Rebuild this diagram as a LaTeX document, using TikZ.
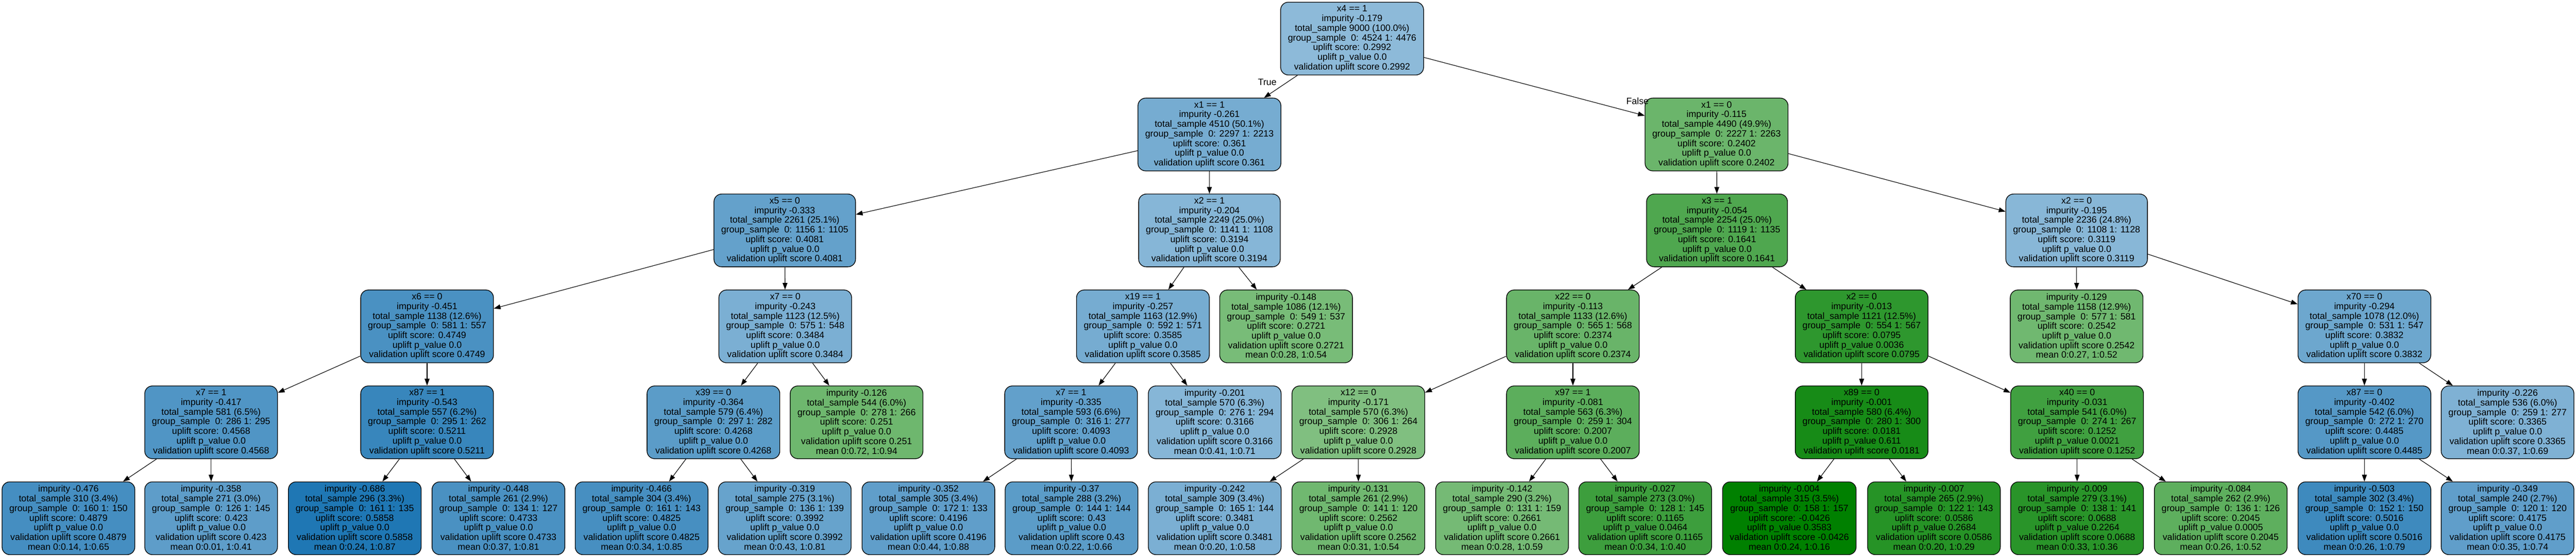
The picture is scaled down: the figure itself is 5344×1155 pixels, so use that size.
\documentclass[tikz,border=0pt]{standalone}
\usepackage{fontspec}
\setmainfont{Liberation Sans}
\usetikzlibrary{arrows.meta}
\definecolor{tabblue}{HTML}{1F77B4}
\definecolor{dgreen}{HTML}{008000}
\newcommand{\nodefnt}{\fontsize{9.5pt}{10pt}\selectfont}
\newcommand{\mkint}[7]{#1\\impurity #2\\total\_sample #3\\group\_sample\ \ 0: #4\\uplift score: #5\\uplift p\_value #6\\validation uplift score #7}
\newcommand{\mkleaf}[7]{impurity #1\\total\_sample #2\\group\_sample\ \ 0: #3\\uplift score: #4\\uplift p\_value #5\\validation uplift score #6\\mean #7}
\begin{document}
\begin{tikzpicture}[x=0.5pt,y=-0.5pt,
  tn/.style={draw=black, line width=0.7pt, rounded corners=8pt, align=center,
    inner xsep=7.5pt, inner ysep=0pt, minimum height=75.5pt, font=\nodefnt},
  bl/.style={tn, fill=tabblue!#1},
  gr/.style={tn, fill=dgreen!#1},
  conn/.style={-{Triangle[length=7pt,width=5pt]}, line width=0.6pt},
  elab/.style={font=\nodefnt, inner sep=0pt}]
\useasboundingbox (0,0) rectangle (5344,1155);
% level 0
\node[bl=51] (n0) at (2805,80) {\mkint{x4 == 1}{-0.179}{9000 (100.0\%)}{4524 1: 4476}{0.2992}{0.0}{0.2992}};
% level 1
\node[bl=61] (n1) at (2509,279) {\mkint{x1 == 1}{-0.261}{4510 (50.1\%)}{2297 1: 2213}{0.361}{0.0}{0.361}};
\node[gr=58] (n2) at (3561,279) {\mkint{x1 == 0}{-0.115}{4490 (49.9\%)}{2227 1: 2263}{0.2402}{0.0}{0.2402}};
% level 2
\node[bl=69] (n3) at (1628,478) {\mkint{x5 == 0}{-0.333}{2261 (25.1\%)}{1156 1: 1105}{0.4081}{0.0}{0.4081}};
\node[bl=54] (n4) at (2509,478) {\mkint{x2 == 1}{-0.204}{2249 (25.0\%)}{1141 1: 1108}{0.3194}{0.0}{0.3194}};
\node[gr=69] (n5) at (3562,478) {\mkint{x3 == 1}{-0.054}{2254 (25.0\%)}{1119 1: 1135}{0.1641}{0.0}{0.1641}};
\node[bl=53] (n6) at (4308,478) {\mkint{x2 == 0}{-0.195}{2236 (24.8\%)}{1108 1: 1128}{0.3119}{0.0}{0.3119}};
% level 3
\node[bl=81] (n7) at (886,677) {\mkint{x6 == 0}{-0.451}{1138 (12.6\%)}{581 1: 557}{0.4749}{0.0}{0.4749}};
\node[bl=59] (n8) at (1629,677) {\mkint{x7 == 0}{-0.243}{1123 (12.5\%)}{575 1: 548}{0.3484}{0.0}{0.3484}};
\node[bl=61] (n9) at (2371,677) {\mkint{x19 == 1}{-0.257}{1163 (12.9\%)}{592 1: 571}{0.3585}{0.0}{0.3585}};
\node[gr=53] (n10) at (2668,677) {\mkleaf{-0.148}{1086 (12.1\%)}{549 1: 537}{0.2721}{0.0}{0.2721}{0:0.28, 1:0.54}};
\node[gr=59] (n11) at (3263,677) {\mkint{x22 == 0}{-0.113}{1133 (12.6\%)}{565 1: 568}{0.2374}{0.0}{0.2374}};
\node[gr=82] (n12) at (3862,677) {\mkint{x2 == 0}{-0.013}{1121 (12.5\%)}{554 1: 567}{0.0795}{0.0036}{0.0795}};
\node[gr=56] (n13) at (4308,677) {\mkleaf{-0.129}{1158 (12.9\%)}{577 1: 581}{0.2542}{0.0}{0.2542}{0:0.27, 1:0.52}};
\node[bl=65] (n14) at (4905,677) {\mkint{x70 == 0}{-0.294}{1078 (12.0\%)}{531 1: 547}{0.3832}{0.0}{0.3832}};
% level 4
\node[bl=78] (n15) at (438,876) {\mkint{x7 == 1}{-0.417}{581 (6.5\%)}{286 1: 295}{0.4568}{0.0}{0.4568}};
\node[bl=89] (n16) at (886,876) {\mkint{x87 == 1}{-0.543}{557 (6.2\%)}{295 1: 262}{0.5211}{0.0}{0.5211}};
\node[bl=73] (n17) at (1480,876) {\mkint{x39 == 0}{-0.364}{579 (6.4\%)}{297 1: 282}{0.4268}{0.0}{0.4268}};
\node[gr=57] (n18) at (1777,876) {\mkleaf{-0.126}{544 (6.0\%)}{278 1: 266}{0.251}{0.0}{0.251}{0:0.72, 1:0.94}};
\node[bl=70] (n19) at (2222,876) {\mkint{x7 == 1}{-0.335}{593 (6.6\%)}{316 1: 277}{0.4093}{0.0}{0.4093}};
\node[bl=54] (n20) at (2520,876) {\mkleaf{-0.201}{570 (6.3\%)}{276 1: 294}{0.3166}{0.0}{0.3166}{0:0.41, 1:0.71}};
\node[gr=50] (n21) at (2818,876) {\mkint{x12 == 0}{-0.171}{570 (6.3\%)}{306 1: 264}{0.2928}{0.0}{0.2928}};
\node[gr=64] (n22) at (3263,876) {\mkint{x97 == 1}{-0.081}{563 (6.3\%)}{259 1: 304}{0.2007}{0.0}{0.2007}};
\node[gr=91] (n23) at (3862,876) {\mkint{x89 == 0}{-0.001}{580 (6.4\%)}{280 1: 300}{0.0181}{0.611}{0.0181}};
\node[gr=75] (n24) at (4309,876) {\mkint{x40 == 0}{-0.031}{541 (6.0\%)}{274 1: 267}{0.1252}{0.0021}{0.1252}};
\node[bl=76] (n25) at (4905,876) {\mkint{x87 == 0}{-0.402}{542 (6.0\%)}{272 1: 270}{0.4485}{0.0}{0.4485}};
\node[bl=57] (n26) at (5202,876) {\mkleaf{-0.226}{536 (6.0\%)}{259 1: 277}{0.3365}{0.0}{0.3365}{0:0.37, 1:0.69}};
% level 5
\node[bl=83] (l1) at (142,1075) {\mkleaf{-0.476}{310 (3.4\%)}{160 1: 150}{0.4879}{0.0}{0.4879}{0:0.14, 1:0.65}};
\node[bl=72] (l2) at (438,1075) {\mkleaf{-0.358}{271 (3.0\%)}{126 1: 145}{0.423}{0.0}{0.423}{0:0.01, 1:0.41}};
\node[bl=100] (l3) at (736,1075) {\mkleaf{-0.686}{296 (3.3\%)}{161 1: 135}{0.5858}{0.0}{0.5858}{0:0.24, 1:0.87}};
\node[bl=81] (l4) at (1034,1075) {\mkleaf{-0.448}{261 (2.9\%)}{134 1: 127}{0.4733}{0.0}{0.4733}{0:0.37, 1:0.81}};
\node[bl=82] (l5) at (1331,1075) {\mkleaf{-0.466}{304 (3.4\%)}{161 1: 143}{0.4825}{0.0}{0.4825}{0:0.34, 1:0.85}};
\node[bl=68] (l6) at (1628,1075) {\mkleaf{-0.319}{275 (3.1\%)}{136 1: 139}{0.3992}{0.0}{0.3992}{0:0.43, 1:0.81}};
\node[bl=71] (l7) at (1926,1075) {\mkleaf{-0.352}{305 (3.4\%)}{172 1: 133}{0.4196}{0.0}{0.4196}{0:0.44, 1:0.88}};
\node[bl=73] (l8) at (2223,1075) {\mkleaf{-0.37}{288 (3.2\%)}{144 1: 144}{0.43}{0.0}{0.43}{0:0.22, 1:0.66}};
\node[bl=59] (l9) at (2520,1075) {\mkleaf{-0.242}{309 (3.4\%)}{165 1: 144}{0.3481}{0.0}{0.3481}{0:0.20, 1:0.58}};
\node[gr=56] (l10) at (2818,1075) {\mkleaf{-0.131}{261 (2.9\%)}{141 1: 120}{0.2562}{0.0}{0.2562}{0:0.31, 1:0.54}};
\node[gr=54] (l11) at (3116,1075) {\mkleaf{-0.142}{290 (3.2\%)}{131 1: 159}{0.2661}{0.0}{0.2661}{0:0.28, 1:0.59}};
\node[gr=76] (l12) at (3413,1075) {\mkleaf{-0.027}{273 (3.0\%)}{128 1: 145}{0.1165}{0.0464}{0.1165}{0:0.34, 1:0.40}};
\node[gr=100] (l13) at (3712,1075) {\mkleaf{-0.004}{315 (3.5\%)}{158 1: 157}{-0.0426}{0.3583}{-0.0426}{0:0.24, 1:0.16}};
\node[gr=85] (l14) at (4012,1075) {\mkleaf{-0.007}{265 (2.9\%)}{122 1: 143}{0.0586}{0.2684}{0.0586}{0:0.20, 1:0.29}};
\node[gr=84] (l15) at (4309,1075) {\mkleaf{-0.009}{279 (3.1\%)}{138 1: 141}{0.0688}{0.2264}{0.0688}{0:0.33, 1:0.36}};
\node[gr=63] (l16) at (4607,1075) {\mkleaf{-0.084}{262 (2.9\%)}{136 1: 126}{0.2045}{0.0005}{0.2045}{0:0.26, 1:0.52}};
\node[bl=86] (l17) at (4905,1075) {\mkleaf{-0.503}{302 (3.4\%)}{152 1: 150}{0.5016}{0.0}{0.5016}{0:0.26, 1:0.79}};
\node[bl=71] (l18) at (5202,1075) {\mkleaf{-0.349}{240 (2.7\%)}{120 1: 120}{0.4175}{0.0}{0.4175}{0:0.35, 1:0.74}};
% connectors
\draw[conn] (n0) -- (n1);
\draw[conn] (n0) -- (n2);
\node[elab] (tlab) at (2629,170) {True};
\node[elab] (flab) at (3397,210) {False};
\draw[conn] (n1) -- (n3);
\draw[conn] (n1) -- (n4);
\draw[conn] (n2) -- (n5);
\draw[conn] (n2) -- (n6);
\draw[conn] (n3) -- (n7);
\draw[conn] (n3) -- (n8);
\draw[conn] (n4) -- (n9);
\draw[conn] (n4) -- (n10);
\draw[conn] (n5) -- (n11);
\draw[conn] (n5) -- (n12);
\draw[conn] (n6) -- (n13);
\draw[conn] (n6) -- (n14);
\draw[conn] (n7) -- (n15);
\draw[conn] (n7) -- (n16);
\draw[conn] (n8) -- (n17);
\draw[conn] (n8) -- (n18);
\draw[conn] (n9) -- (n19);
\draw[conn] (n9) -- (n20);
\draw[conn] (n11) -- (n21);
\draw[conn] (n11) -- (n22);
\draw[conn] (n12) -- (n23);
\draw[conn] (n12) -- (n24);
\draw[conn] (n14) -- (n25);
\draw[conn] (n14) -- (n26);
\draw[conn] (n15) -- (l1);
\draw[conn] (n15) -- (l2);
\draw[conn] (n16) -- (l3);
\draw[conn] (n16) -- (l4);
\draw[conn] (n17) -- (l5);
\draw[conn] (n17) -- (l6);
\draw[conn] (n19) -- (l7);
\draw[conn] (n19) -- (l8);
\draw[conn] (n21) -- (l9);
\draw[conn] (n21) -- (l10);
\draw[conn] (n22) -- (l11);
\draw[conn] (n22) -- (l12);
\draw[conn] (n23) -- (l13);
\draw[conn] (n23) -- (l14);
\draw[conn] (n24) -- (l15);
\draw[conn] (n24) -- (l16);
\draw[conn] (n25) -- (l17);
\draw[conn] (n25) -- (l18);
\end{tikzpicture}
\end{document}
